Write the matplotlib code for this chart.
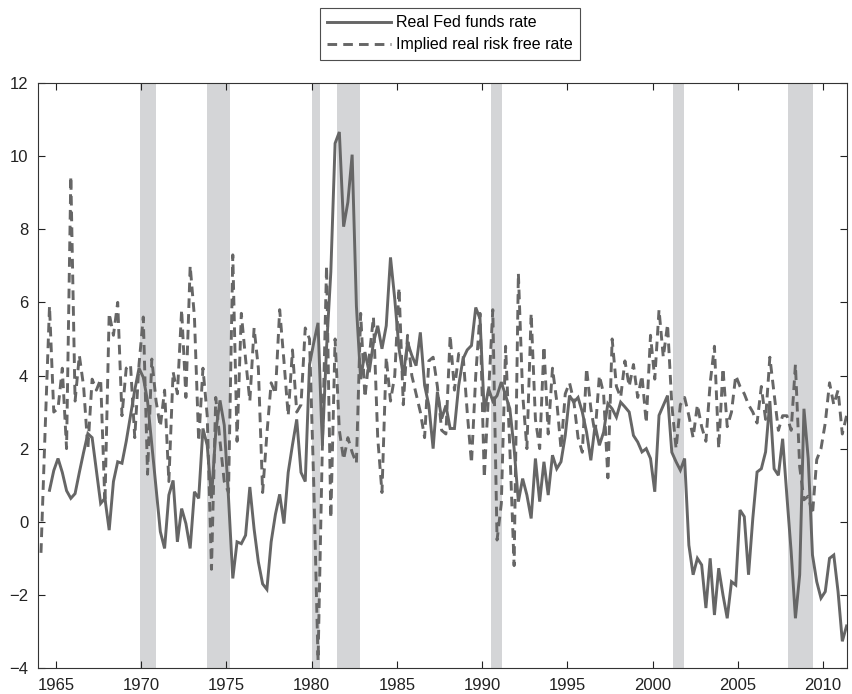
import numpy as np
import matplotlib
matplotlib.use("Agg")
import matplotlib.pyplot as plt

plt.rcParams['font.family'] = ['Liberation Sans', 'DejaVu Sans']

# quarterly observations (mid-quarter), 1964Q1 .. 2011Q2
start_year = 1964.125
step = 0.25

real_fed_funds = [
    np.nan, np.nan, 0.86, 1.4,            # 1964
    1.73, 1.35, 0.85, 0.64,               # 1965
    0.77, 1.35, 1.9, 2.41,                # 1966
    2.3, 1.4, 0.5, 0.64,                  # 1967
    -0.23, 1.1, 1.64, 1.6,                # 1968
    2.2, 2.9, 3.6, 4.2,                   # 1969
    3.95, 3.3, 2.1, 0.9,                  # 1970
    -0.27, -0.73, 0.73, 1.13,             # 1971
    -0.55, 0.36, -0.05, -0.73,            # 1972
    0.82, 0.64, 2.55, 2.09,               # 1973
    0.64, 2.45, 3.32, 2.64,               # 1974
    0.64, -1.55, -0.55, -0.6,             # 1975
    -0.37, 0.95, -0.2, -1.1,              # 1976
    -1.7, -1.85, -0.55, 0.2,              # 1977
    0.75, -0.05, 1.35, 2.1,               # 1978
    2.8, 1.35, 1.1, 4.3,                  # 1979
    4.9, 5.44, 2.08, 4.76,                # 1980
    6.83, 10.35, 10.66, 8.07,             # 1981
    8.74, 10.04, 5.9, 3.9,                # 1982
    4.64, 4.09, 4.9, 5.36,                # 1983
    4.73, 5.36, 7.23, 6.09,               # 1984
    4.73, 4.0, 4.9, 4.55,                 # 1985
    4.27, 5.18, 3.73, 3.18,               # 1986
    2.0, 3.55, 2.82, 3.18,                # 1987
    2.55, 2.55, 3.73, 4.45,               # 1988
    4.7, 4.82, 5.86, 5.55,                # 1989
    3.0, 3.64, 3.3, 3.45,                 # 1990
    3.82, 3.45, 3.09, 2.0,                # 1991
    0.55, 1.18, 0.73, 0.09,               # 1992
    1.73, 0.55, 1.64, 0.73,               # 1993
    1.82, 1.45, 1.64, 2.36,               # 1994
    3.45, 3.27, 3.4, 3.0,                 # 1995
    2.45, 1.68, 2.64, 2.09,               # 1996
    2.45, 3.23, 3.09, 2.86,               # 1997
    3.27, 3.14, 3.0, 2.36,                # 1998
    2.18, 1.91, 2.0, 1.73,                # 1999
    0.82, 2.91, 3.18, 3.45,               # 2000
    1.9, 1.64, 1.41, 1.73,                # 2001
    -0.64, -1.45, -1.0, -1.18,            # 2002
    -2.36, -1.0, -2.55, -1.27,            # 2003
    -2.0, -2.64, -1.64, -1.73,            # 2004
    0.32, 0.14, -1.45, 0.09,              # 2005
    1.36, 1.45, 1.91, 3.3,                # 2006
    1.45, 1.27, 2.27, 0.7,                # 2007
    -0.82, -2.64, -1.45, 3.09,            # 2008
    1.73, -0.91, -1.64, -2.09,            # 2009
    -1.91, -1.0, -0.91, -1.91,            # 2010
    -3.27, -2.85,                         # 2011
]

implied_real_rf = [
    -0.85, 2.6, 5.9, 3.0,                 # 1964
    3.1, 4.2, 2.0, 9.45,                  # 1965
    3.3, 4.55, 3.7, 2.0,                  # 1966
    3.9, 3.6, 3.9, 0.5,                   # 1967
    5.7, 5.1, 6.0, 2.9,                   # 1968
    4.2, 4.3, 2.3, 4.3,                   # 1969
    5.6, 1.3, 4.45, 3.3,                  # 1970
    2.6, 3.6, 1.1, 4.1,                   # 1971
    3.5, 5.8, 3.4, 7.0,                   # 1972
    5.6, 2.2, 4.2, 2.9,                   # 1973
    -1.3, 3.4, 2.2, 1.1,                  # 1974
    0.8, 7.3, 2.2, 5.7,                   # 1975
    4.45, 3.3, 5.3, 4.2,                  # 1976
    0.8, 2.4, 3.8, 3.5,                   # 1977
    5.8, 4.4, 2.9, 4.7,                   # 1978
    3.0, 3.2, 5.3, 5.0,                   # 1979
    1.0, -3.8, 2.0, 7.0,                  # 1980
    0.1, 5.0, 2.5, 1.7,                   # 1981
    2.3, 1.9, 1.6, 5.7,                   # 1982
    3.4, 4.5, 5.6, 2.3,                   # 1983
    0.8, 4.5, 3.3, 4.0,                   # 1984
    6.4, 3.2, 5.1, 4.0,                   # 1985
    3.5, 3.0, 2.3, 4.4,                   # 1986
    4.5, 3.7, 2.5, 2.4,                   # 1987
    5.1, 3.6, 4.6, 4.6,                   # 1988
    3.0, 1.6, 4.0, 5.7,                   # 1989
    1.2, 3.5, 5.8, -0.5,                  # 1990
    0.5, 4.8, 2.0, -1.2,                  # 1991
    6.8, 3.5, 2.0, 5.7,                   # 1992
    2.8, 2.0, 4.8, 2.4,                   # 1993
    4.2, 3.3, 2.0, 3.5,                   # 1994
    3.8, 3.3, 2.3, 1.9,                   # 1995
    4.2, 3.1, 2.4, 4.0,                   # 1996
    3.5, 1.2, 5.0, 3.7,                   # 1997
    3.4, 4.4, 3.7, 4.3,                   # 1998
    3.4, 4.0, 2.7, 5.1,                   # 1999
    3.9, 5.8, 4.5, 5.4,                   # 2000
    3.2, 2.0, 3.2, 3.4,                   # 2001
    2.9, 2.3, 3.2, 2.6,                   # 2002
    2.2, 3.8, 4.8, 2.0,                   # 2003
    4.2, 2.6, 3.0, 4.0,                   # 2004
    3.7, 3.5, 3.2, 3.0,                   # 2005
    2.7, 3.7, 2.8, 4.5,                   # 2006
    3.5, 2.5, 2.9, 2.9,                   # 2007
    2.5, 4.3, 1.5, 0.6,                   # 2008
    0.7, 0.2, 1.7, 2.0,                   # 2009
    2.7, 3.8, 3.2, 3.6,                   # 2010
    2.4, 2.9,                             # 2011
]

recession_start = [1969.92, 1973.87, 1980.0, 1981.5, 1990.5, 2001.17, 2007.92]
recession_end = [1970.87, 1975.2, 1980.5, 1982.83, 1991.17, 2001.83, 2009.42]

xticks = [1965, 1970, 1975, 1980, 1985, 1990, 1995, 2000, 2005, 2010]
yticks = [-4, -2, 0, 2, 4, 6, 8, 10, 12]
labels = ["Real Fed funds rate", "Implied real risk free rate"]

t = start_year + step * np.arange(len(real_fed_funds))

fig = plt.figure(figsize=(8.53, 6.94), dpi=100)
ax = fig.add_axes([38 / 853, 1 - 668 / 694, 809 / 853, 585 / 694])

for s, e in zip(recession_start, recession_end):
    ax.axvspan(s, e, color='#d4d5d7', lw=0, zorder=0)

line_col = '#666666'
l1, = ax.plot(t, real_fed_funds, color=line_col, lw=2.1, zorder=3,
              solid_joinstyle='miter', label=labels[0])
l2, = ax.plot(t, implied_real_rf, color=line_col, lw=2.1, zorder=2,
              linestyle=(0, (3.3, 2.1)), label=labels[1])

ax.set_xlim(1963.95, 2011.4)
ax.set_ylim(-4, 12)
ax.set_xticks(xticks)
ax.set_yticks(yticks)
ax.tick_params(direction='in', length=5, width=0.8, top=True, right=True,
               labelsize=12, colors='#222222', pad=7)
for sp in ax.spines.values():
    sp.set_color('#333333')
    sp.set_linewidth(0.8)

leg = fig.legend(handles=[l1, l2], labels=labels, loc='upper center',
                 bbox_to_anchor=(450 / 853, 1 - 8 / 694), fontsize=11.5,
                 frameon=True, fancybox=False, edgecolor='#222222',
                 handlelength=4.0, handletextpad=0.3, borderpad=0.45,
                 labelspacing=0.45, borderaxespad=0)
leg.get_frame().set_linewidth(0.8)

fig.savefig('out.png', dpi=100)
